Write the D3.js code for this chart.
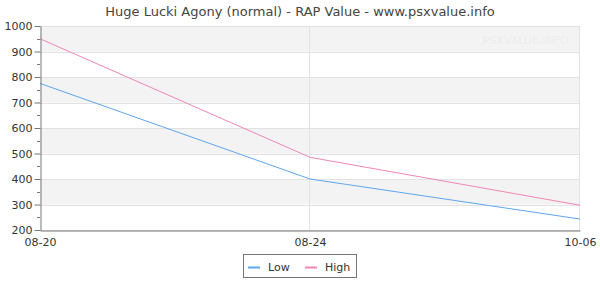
<!DOCTYPE html>
<html>
<head>
<meta charset="utf-8">
<script src="https://cdn.jsdelivr.net/npm/d3@7"></script>
<style>
  body { margin: 0; background: #fff; }
  svg text { font-family: "DejaVu Sans", sans-serif; fill: #333; }
</style>
</head>
<body>
<div id="chart"></div>
<script>
// 数据
const dates = ["08-20", "08-24", "10-06"];
const lowValues = [775, 400, 243];
const highValues = [950, 485, 297];
const seriesNames = ["Low", "High"];
const seriesColors = ["#5ea6ee", "#ef86b9"];
const yTicks = [200, 300, 400, 500, 600, 700, 800, 900, 1000];

document.addEventListener("DOMContentLoaded", function(){
    var width = 600, height = 300;
    var margin = {left: 40, right: 20, top: 26, bottom: 70};
    var svg = d3.select("#chart").append("svg")
        .attr("width", width).attr("height", height);

    var x = d3.scalePoint().domain(dates).range([margin.left, width - margin.right]);
    var y = d3.scaleLinear().domain([200, 1000]).range([height - margin.bottom, margin.top]);

    //标题
    svg.append("text")
        .attr("x", width / 2).attr("y", 16)
        .attr("text-anchor", "middle")
        .style("font-size", "13px")
        .style("fill", "#444")
        .text("Huge Lucki Agony (normal) - RAP Value - www.psxvalue.info");

    //背景条纹
    for (var i = 0; i < yTicks.length - 1; i++) {
        if ((yTicks.length - 2 - i) % 2 == 0) {
            svg.append("rect")
                .attr("x", margin.left)
                .attr("y", y(yTicks[i + 1]))
                .attr("width", width - margin.right - margin.left)
                .attr("height", y(yTicks[i]) - y(yTicks[i + 1]))
                .attr("fill", "#f3f3f3");
        }
    }

    //水平网格线
    svg.append("g").selectAll("line").data(yTicks).join("line")
        .attr("x1", margin.left).attr("x2", width - margin.right)
        .attr("y1", d => Math.round(y(d)) + 0.5).attr("y2", d => Math.round(y(d)) + 0.5)
        .attr("stroke", "#e2e2e2").attr("stroke-width", 1);

    //垂直网格线（含右边框）
    svg.append("g").selectAll("line").data(dates.slice(1)).join("line")
        .attr("x1", d => Math.round(x(d)) - 0.5).attr("x2", d => Math.round(x(d)) - 0.5)
        .attr("y1", margin.top).attr("y2", height - margin.bottom)
        .attr("stroke", "#e2e2e2").attr("stroke-width", 1);

    //水印
    svg.append("text")
        .attr("x", 526).attr("y", 44)
        .attr("text-anchor", "middle")
        .style("font-size", "11px")
        .style("fill", "#ededed")
        .text("PSXVALUE.INFO");

    //折线
    var line = d3.line().x((d, i) => x(dates[i])).y(d => y(d));
    [lowValues, highValues].forEach(function(vals, k){
        svg.append("path")
            .datum(vals)
            .attr("d", line)
            .attr("fill", "none")
            .attr("stroke", seriesColors[k])
            .attr("stroke-width", 1);
    });

    //Y轴
    var minor = d3.range(250, 1000, 100);
    svg.append("g").selectAll("line").data(minor).join("line")
        .attr("x1", margin.left - 3).attr("x2", margin.left)
        .attr("y1", d => Math.round(y(d)) + 0.5).attr("y2", d => Math.round(y(d)) + 0.5)
        .attr("stroke", "#777");
    var yAxis = svg.append("g")
        .attr("transform", "translate(" + (margin.left + 0.5) + ",0)")
        .call(d3.axisLeft(y).tickValues(yTicks).tickFormat(d3.format("d"))
            .tickSize(6).tickPadding(2).tickSizeOuter(0));
    yAxis.select(".domain").attr("stroke", "#777");
    yAxis.selectAll(".tick line").attr("stroke", "#777");
    yAxis.selectAll("text").style("font-size", "11px").style("fill", "#333");

    //X轴
    var xAxis = svg.append("g")
        .attr("transform", "translate(0," + (height - margin.bottom + 0.5) + ")")
        .call(d3.axisBottom(x).tickSize(0).tickPadding(8));
    xAxis.select(".domain").attr("stroke", "#777");
    xAxis.selectAll("text").style("font-size", "11px").style("fill", "#333");

    //图例
    var legend = svg.append("g");
    legend.append("rect")
        .attr("x", 243.5).attr("y", 254.5)
        .attr("width", 113).attr("height", 23)
        .attr("fill", "#fff").attr("stroke", "#777");
    var lx = [248, 305];
    seriesNames.forEach(function(name, k){
        legend.append("line")
            .attr("x1", lx[k]).attr("x2", lx[k] + 12)
            .attr("y1", 267.5).attr("y2", 267.5)
            .attr("stroke", seriesColors[k]).attr("stroke-width", 2);
        legend.append("text")
            .attr("x", lx[k] + 20).attr("y", 271)
            .style("font-size", "11px")
            .text(name);
    });
});
</script>
</body>
</html>
